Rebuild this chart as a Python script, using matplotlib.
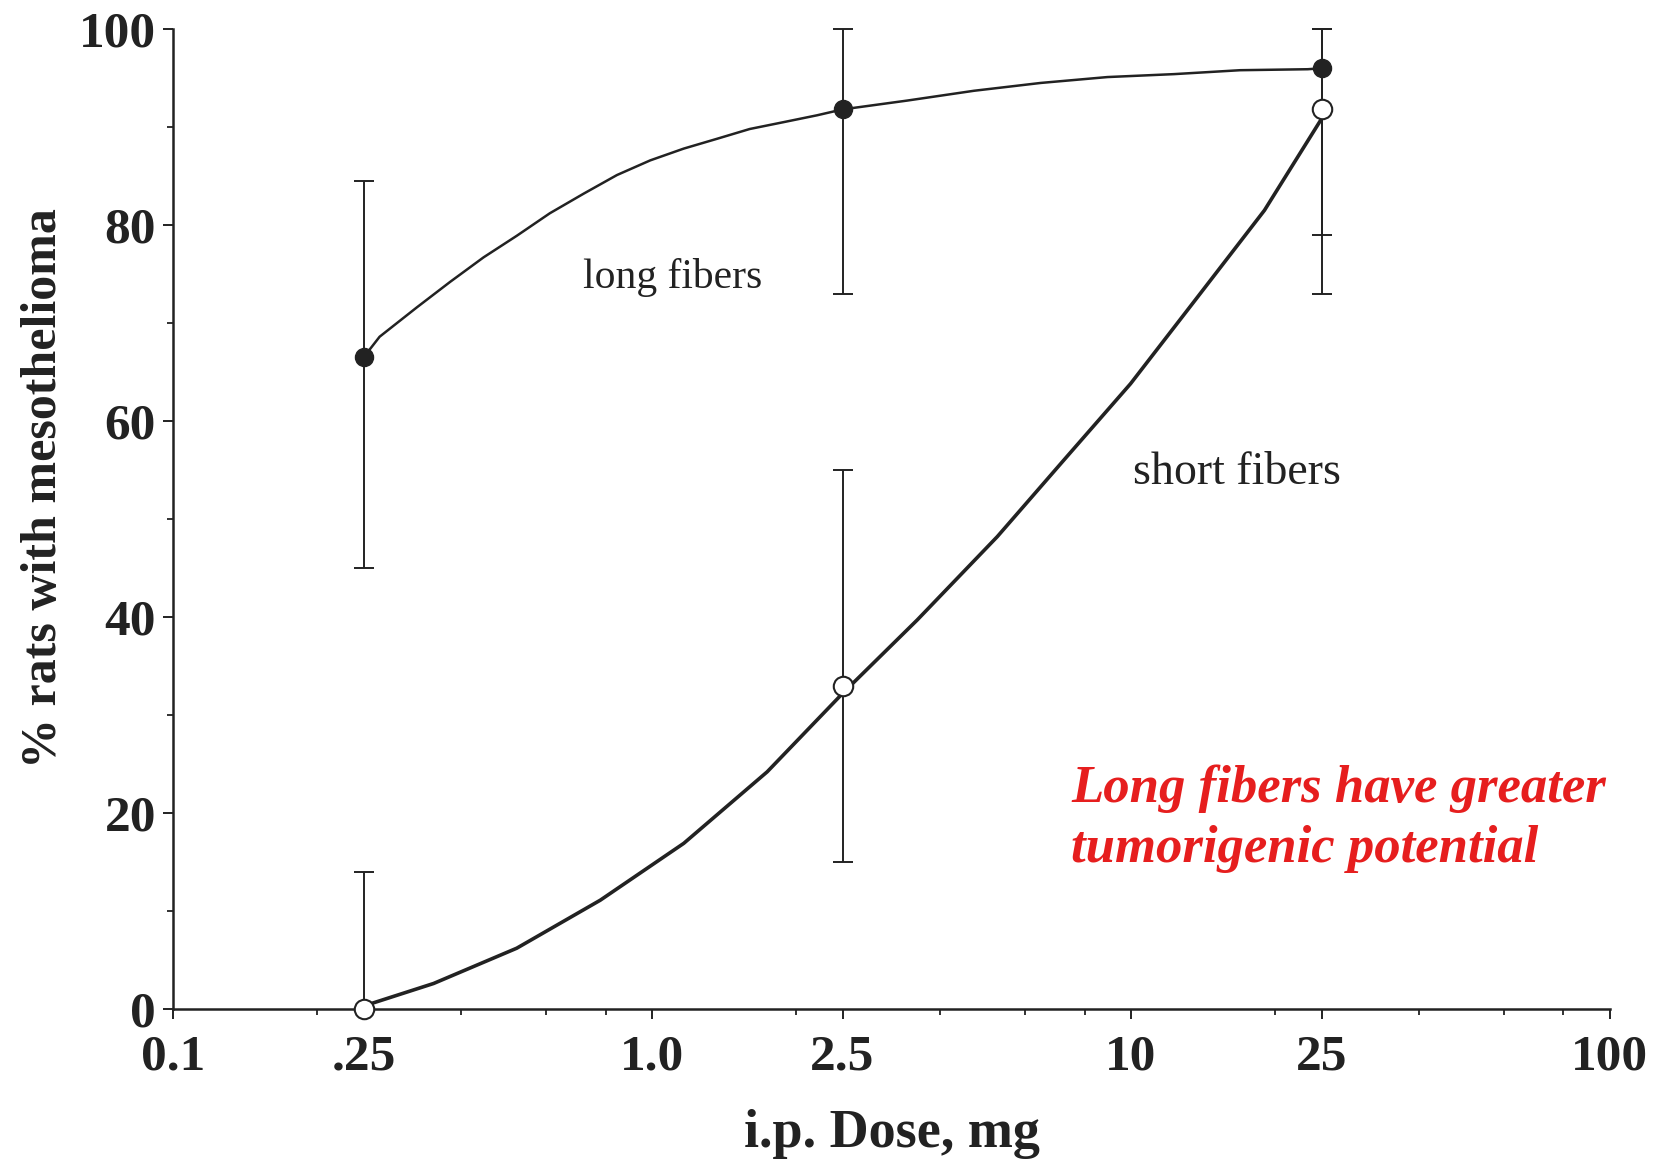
import numpy as np
import matplotlib
matplotlib.use('Agg')
import matplotlib.pyplot as plt
from matplotlib.ticker import FixedLocator, NullFormatter

plt.rcParams['font.family'] = ['Liberation Serif', 'DejaVu Serif']

# measured points (dose in mg, % rats with mesothelioma)
dose = np.array([0.25, 2.5, 25])
long_pct = np.array([66.5, 91.8, 96.0])
long_lo = np.array([45.0, 73.0, 79.0])
long_hi = np.array([84.5, 100.0, 100.0])
short_pct = np.array([0.0, 33.0, 91.8])
short_lo = np.array([0.0, 15.0, 73.0])
short_hi = np.array([14.0, 55.0, 100.0])

# fitted curves
long_curve_x = [0.25, 0.27, 0.323, 0.379, 0.445, 0.522, 0.612, 0.720, 0.845, 0.992,
                1.165, 1.367, 1.60, 1.883, 2.212, 2.5, 3.41, 4.70, 6.48, 8.93,
                12.3, 16.9, 23.4, 25]
long_curve_y = [66.5, 68.6, 71.6, 74.2, 76.7, 78.9, 81.2, 83.2, 85.1, 86.6,
                87.8, 88.8, 89.8, 90.5, 91.2, 91.8, 92.7, 93.7, 94.5, 95.1,
                95.4, 95.8, 95.9, 96.0]
short_curve_x = [0.25, 0.35, 0.522, 0.78, 1.165, 1.74, 2.5, 3.58, 5.26, 7.24,
                 9.98, 13.8, 19.0, 24.9]
short_curve_y = [0.3, 2.6, 6.2, 11.1, 16.9, 24.2, 32.2, 39.7, 48.2, 56.0,
                 63.8, 72.7, 81.5, 90.7]

xticks = [0.1, 0.25, 1.0, 2.5, 10, 25, 100]
xticklabels = ['0.1', '.25', '1.0', '2.5', '10', '25', '100']
xminor = [0.2, 0.4, 0.6, 0.8, 2, 4, 6, 8, 20, 40, 60, 80]
yticks = [0, 20, 40, 60, 80, 100]
yminor = [10, 30, 50, 70, 90]

ink = '#222222'
red = '#e61e1e'

fig = plt.figure(figsize=(16.65, 11.62), dpi=100)
ax = fig.add_axes([0.1039, 0.1317, 0.863, 0.8433])

ax.plot(long_curve_x, long_curve_y, color=ink, lw=1.8, zorder=2)
ax.plot(short_curve_x, short_curve_y, color=ink, lw=2.6, zorder=2)

ax.errorbar(dose, long_pct, yerr=[long_pct - long_lo, long_hi - long_pct], fmt='none',
            ecolor=ink, elinewidth=1.4, capsize=7.5, capthick=1.4, zorder=1, clip_on=False)
ax.errorbar(dose, short_pct, yerr=[short_pct - short_lo, short_hi - short_pct], fmt='none',
            ecolor=ink, elinewidth=1.4, capsize=7.5, capthick=1.4, zorder=1, clip_on=False)

ax.plot(dose, long_pct, 'o', color=ink, ms=13, zorder=4, clip_on=False)
ax.plot(dose, short_pct, 'o', mfc='white', mec=ink, mew=1.5, ms=14, zorder=4, clip_on=False)

ax.set_xscale('log')
ax.set_xlim(0.1, 100)
ax.set_ylim(0, 100)

ax.xaxis.set_major_locator(FixedLocator(xticks))
ax.set_xticklabels(xticklabels)
ax.xaxis.set_minor_locator(FixedLocator(xminor))
ax.xaxis.set_minor_formatter(NullFormatter())
ax.set_yticks(yticks)
ax.yaxis.set_minor_locator(FixedLocator(yminor))

for s in ['top', 'right']:
    ax.spines[s].set_visible(False)
for s in ['left', 'bottom']:
    ax.spines[s].set_linewidth(1.8)
    ax.spines[s].set_color(ink)

ax.tick_params(which='major', length=7.2, width=1.4, color=ink, labelsize=37, labelcolor=ink)
ax.tick_params(which='minor', length=4.3, width=1.3, color=ink)
ax.tick_params(axis='x', which='major', pad=11)
ax.tick_params(axis='y', which='major', pad=5)
for lab in ax.get_xticklabels() + ax.get_yticklabels():
    lab.set_fontweight('bold')

ax.set_xlabel('i.p. Dose, mg', fontsize=39, fontweight='bold', color=ink)
ax.xaxis.set_label_coords(0.5, -0.102)
ax.xaxis.label.set_va('top')
ax.set_ylabel('% rats with mesothelioma', fontsize=36, fontweight='bold', color=ink)
ax.yaxis.set_label_coords(-0.074, 0.532)

ax.text(0.718, 73.6, 'long fibers', fontsize=30, color=ink, ha='left', va='baseline')
ax.text(10.08, 53.6, 'short fibers', fontsize=33, color=ink, ha='left', va='baseline')
ax.text(7.5, 25.0, 'Long fibers have greater\ntumorigenic potential', fontsize=38,
        color=red, fontweight='bold', fontstyle='italic', ha='left', va='top',
        linespacing=1.35)

fig.savefig('out.png', dpi=100, facecolor='white')
